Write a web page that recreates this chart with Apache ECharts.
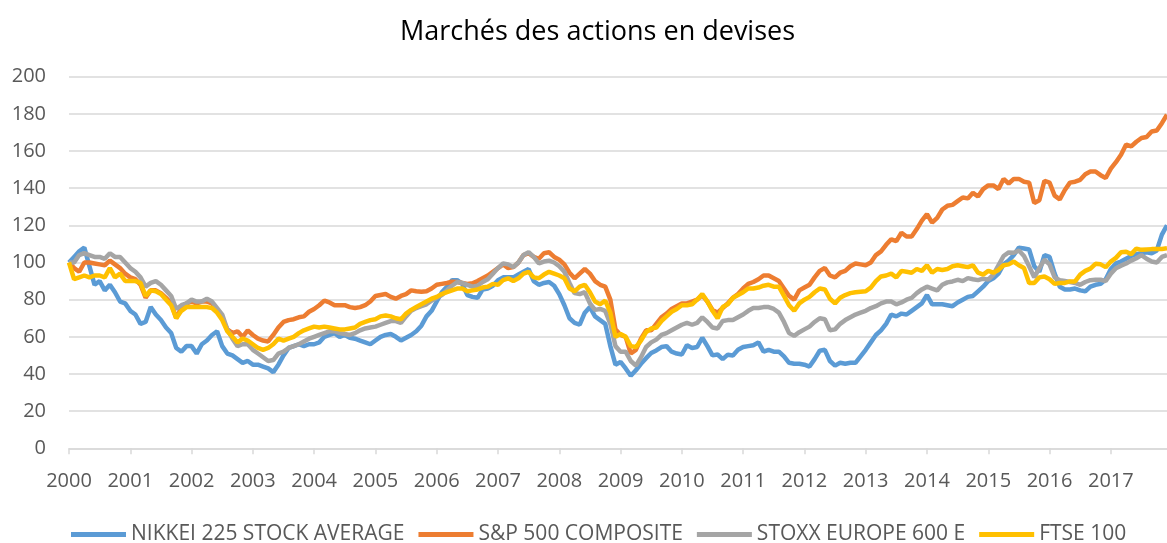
<!DOCTYPE html>
<html>
<head>
<meta charset="utf-8">
<script src="https://cdn.jsdelivr.net/npm/echarts/dist/echarts.min.js"></script>
<style>
  html, body { margin: 0; padding: 0; background: #fff; }
  #main { width: 1167px; height: 543px; }
</style>
</head>
<body>
<div id="main"></div>
<script>
// étiquettes des années (une par janvier)
var years = ['2000', '2001', '2002', '2003', '2004', '2005', '2006', '2007', '2008',
             '2009', '2010', '2011', '2012', '2013', '2014', '2015', '2016', '2017'];

// indices mensuels, base 100 = janvier 2000
var nikkei = [
  100, 103, 106, 108, 98, 88, 90, 85, 88, 84, 79, 78,
  74, 72, 67, 68, 76, 72, 69, 65, 62, 54, 52, 55,
  55, 51, 56, 58, 61, 63, 55, 51, 50, 48, 46, 47,
  45, 45, 44, 43, 41, 45, 50, 54, 55, 56, 55, 56,
  56, 57, 60, 61, 62, 60, 61, 59.5, 59, 58, 57, 56,
  58, 60, 61, 61.5, 60, 58, 59.5, 61, 63, 66, 71, 74,
  79, 84, 87, 90.5, 90.5, 88.5, 82.5, 81.5, 81, 85.5, 86, 87.5,
  90.5, 92, 92, 92, 93.5, 95, 96.5, 90, 88, 89, 89.5, 87.5,
  83, 77, 70, 67.5, 66.5, 73, 76, 71, 69, 67, 55, 45,
  46.5, 43, 39, 42, 45.5, 48.5, 51.3, 52.7, 54.5, 55, 52, 51,
  50.5, 55.5, 54, 54.5, 59.5, 55, 50, 50.5, 48, 50.4, 50, 53,
  54.5, 55, 55.5, 57, 52, 53, 52, 52, 49.5, 46, 45.5, 45.5,
  45, 44, 48, 52.5, 53, 47, 44.5, 46, 45.5, 46, 46, 49.5,
  53, 57, 61, 63.5, 67, 72, 71, 72.5, 72, 74, 76, 78,
  82.5, 77.5, 77.5, 77.5, 77, 76.5, 78.5, 80, 81.5, 82, 84.5, 87,
  90, 91.5, 94, 99, 101, 104, 108, 107.5, 107, 98, 95, 104,
  103, 94, 87, 85.5, 85.5, 86, 85, 84.5, 87, 88, 88.5, 91,
  96.5, 99.5, 100.5, 102, 103.5, 104.5, 105, 105.5, 105, 106.5, 115, 120
];
var sp500 = [
  100, 97, 95, 100, 100, 99.5, 99, 98.5, 101, 99, 97, 94,
  92, 91, 88, 81, 85, 85, 83.5, 81, 78, 70, 75.5, 78,
  79, 78, 79, 79, 78, 74, 70, 64, 62, 63, 60, 63.5,
  61, 59, 58, 57.5, 61, 65, 68, 69, 69.5, 70.5, 71, 73.5,
  75, 77, 79.5, 78.5, 77, 77, 77, 76, 75.5, 76, 77, 79,
  82, 82.5, 83, 81.5, 80.5, 82, 83, 85, 84.5, 84.3, 84.5, 86,
  88, 88.5, 89, 89.6, 89.5, 89, 88.5, 88.8, 90, 91.5, 93, 95,
  97, 99, 97, 97.5, 100, 104, 105, 103, 102, 105, 105.5, 103,
  101.5, 99, 94.5, 91.5, 94, 96.5, 94, 90, 88, 87, 80, 64,
  61, 60, 51, 53, 59, 63.5, 63.5, 67, 70.5, 72.5, 75, 76.5,
  78, 78, 79, 80, 82.5, 79, 74.5, 73, 75.5, 78, 81, 83,
  86, 88.5, 89.5, 91, 93, 93, 91.5, 90, 86, 82, 80, 85,
  86.5, 88, 92, 95.5, 97, 93, 92, 94.5, 95.5, 98, 99.5, 99,
  98.5, 100, 104, 106, 109.5, 112.5, 111.5, 116, 114, 114, 118, 122.5,
  126, 121.5, 124, 128.5, 130.5, 131, 133, 135, 134.5, 137.5, 135.5, 139.5,
  141.5, 141.5, 139.5, 145, 142.5, 145, 145, 143.5, 143, 132, 133.5, 144,
  143, 136, 134, 139, 143, 143.5, 144.5, 147.5, 149, 149, 147, 145.5,
  150.5, 154, 158, 163.5, 162.5, 165, 167, 167.5, 170.5, 171, 175, 179.5
];
var stoxx = [
  100, 100, 104, 105, 104, 103, 103, 102, 105, 103, 103, 100,
  97, 95, 92, 87, 89, 90, 88, 85, 82, 75, 77, 78,
  80, 79, 79, 80.5, 79, 75.5, 72, 64, 59, 55, 56, 56,
  53, 51, 49, 47, 47.5, 51, 52, 54, 55, 56, 57.5, 59,
  60, 61, 62, 63, 63, 62, 61.5, 61, 62, 63.5, 64.5, 65,
  65.5, 66.5, 67.5, 68.5, 68.5, 67.5, 71, 74, 75.5, 76.5, 77.5, 79.5,
  81, 82.5, 85, 87.5, 89.5, 89, 88, 87, 87.5, 89.5, 91, 94,
  97, 99.5, 99, 97.5, 100, 104, 105.5, 103, 99.5, 100.5, 101, 100,
  98, 95, 89, 83.5, 83, 84, 78, 74.5, 75, 74, 67, 55,
  52, 52, 47, 44.5, 49, 54.5, 57, 58.5, 61, 62, 63.5, 65,
  66.5, 67.5, 66.5, 67.5, 70.5, 68, 65, 64.5, 68.5, 69, 69, 70.5,
  72, 74, 75.5, 75.5, 76, 76, 75, 73, 68, 62, 60.5, 62.5,
  64, 65.5, 68, 70, 69.5, 63.5, 64, 67, 69, 70.5, 72, 73,
  74, 75.5, 76.5, 78, 79, 79, 77.5, 78.5, 80, 81, 83.5, 85.5,
  87, 86, 85, 88, 89.3, 89.8, 90.7, 90, 91.6, 91, 90.5, 91.3,
  90.8, 93.5, 98.5, 103.5, 105.4, 105.2, 106.5, 103.5, 98, 92, 97, 101.5,
  99, 92, 90.5, 90, 89.5, 89, 88, 89.5, 90.5, 90.7, 90.7, 90,
  94, 96.9, 98.3, 99.5, 101, 102.3, 104, 102, 100.5, 100, 103, 104
];
var ftse = [
  100, 91, 92, 93, 92, 93, 93, 92, 97, 92, 94, 90,
  90, 90, 89, 82, 85, 84.5, 83, 80, 77, 70, 74, 76,
  76, 76, 76, 76, 75.5, 73, 69, 63, 60, 57, 59, 58,
  56, 54, 53, 54, 56, 59, 58, 59, 60, 62, 63.5, 64.5,
  65.5, 65, 65.5, 65, 64.5, 64, 64, 64.5, 65, 67, 68, 69,
  69.5, 71, 71.5, 71, 70, 69.5, 72.5, 74.5, 76, 77.5, 79, 80.5,
  81.5, 83, 84, 85, 86, 86, 84.5, 85, 85.5, 86.5, 87, 88.5,
  88, 90.5, 91.5, 90, 91.5, 94, 95, 92, 91.5, 93.5, 95, 94,
  93, 91.5, 86, 84.5, 87, 88, 84, 79, 77.5, 79.5, 73, 60,
  61.5, 60, 55, 54.5, 58, 62.5, 64.5, 65, 68.5, 71, 73.5, 75,
  77, 77, 77.5, 80, 83, 79, 74, 70, 76, 77.5, 81, 82.5,
  84, 86, 86, 86.5, 87.5, 88, 87, 87, 82, 77, 74, 78,
  80, 81.5, 84, 86, 85.5, 80.5, 78, 81, 82.5, 83.5, 84, 84.3,
  84.5, 86.5, 90, 92.5, 93, 94, 92, 95.5, 95, 94.5, 96.5, 95.5,
  98.5, 94.5, 96.5, 96, 96.5, 98, 98.5, 98, 97.5, 98.5, 94.5, 93.5,
  95.5, 94.5, 96, 98.5, 99, 100.5, 98.5, 97, 89, 89, 92, 92.5,
  91, 88.5, 89, 89, 89.8, 89.8, 93.5, 95.5, 96.7, 99.3, 99, 97.5,
  100.5, 102.5, 105.5, 105.8, 104.5, 107.5, 106.8, 107, 107.2, 107.2, 107.3, 107.7
];

// une catégorie par mois
var months = [];
for (var y = 0; y < years.length; y++) {
    for (var m = 1; m <= 12; m++) {
        months.push(years[y] + '-' + (m < 10 ? '0' + m : m));
    }
}

var isJanuary = function (index) { return index % 12 === 0; };
var font = '"Open Sans", "Noto Sans", sans-serif';

var chart = echarts.init(document.getElementById('main'));
var option = {
    backgroundColor: '#fff',
    animation: false,
    title: {
        text: 'Marchés des actions en devises',
        left: 395,
        top: 14,
        textStyle: { fontSize: 27, fontWeight: 'normal', color: '#000', fontFamily: font }
    },
    legend: {
        top: 519,
        left: 66,
        icon: 'rect',
        itemWidth: 55,
        itemHeight: 5,
        itemGap: 14,
        textStyle: { fontSize: 21, color: '#595959', fontFamily: font },
        data: ['NIKKEI 225 STOCK AVERAGE', 'S&P 500 COMPOSITE', 'STOXX EUROPE 600 E', 'FTSE 100']
    },
    grid: { left: 69, right: 0, top: 76.7, bottom: 94.7, containLabel: false },
    xAxis: {
        type: 'category',
        boundaryGap: false,
        data: months,
        axisLine: { lineStyle: { color: '#D9D9D9', width: 1.5 } },
        axisTick: { interval: isJanuary, length: 6, lineStyle: { color: '#D9D9D9', width: 1.5 } },
        axisLabel: {
            interval: isJanuary,
            margin: 23,
            fontSize: 20,
            color: '#595959',
            fontFamily: font,
            formatter: function (v) { return v.slice(0, 4); }
        },
        splitLine: { show: false }
    },
    yAxis: {
        type: 'value',
        min: 0,
        max: 200,
        interval: 20,
        axisLine: { show: false },
        axisTick: { show: false },
        axisLabel: { margin: 23, fontSize: 20, color: '#595959', fontFamily: font },
        splitLine: { lineStyle: { color: '#D9D9D9', width: 1.5 } }
    },
    series: [
        { name: 'NIKKEI 225 STOCK AVERAGE', type: 'line', data: nikkei, showSymbol: false,
          color: '#5B9BD5', lineStyle: { width: 4.5, color: '#5B9BD5' } },
        { name: 'S&P 500 COMPOSITE', type: 'line', data: sp500, showSymbol: false,
          color: '#ED7D31', lineStyle: { width: 4.5, color: '#ED7D31' } },
        { name: 'STOXX EUROPE 600 E', type: 'line', data: stoxx, showSymbol: false,
          color: '#A5A5A5', lineStyle: { width: 4.5, color: '#A5A5A5' } },
        { name: 'FTSE 100', type: 'line', data: ftse, showSymbol: false,
          color: '#FFC000', lineStyle: { width: 4.5, color: '#FFC000' } }
    ]
};
chart.setOption(option);
</script>
</body>
</html>
